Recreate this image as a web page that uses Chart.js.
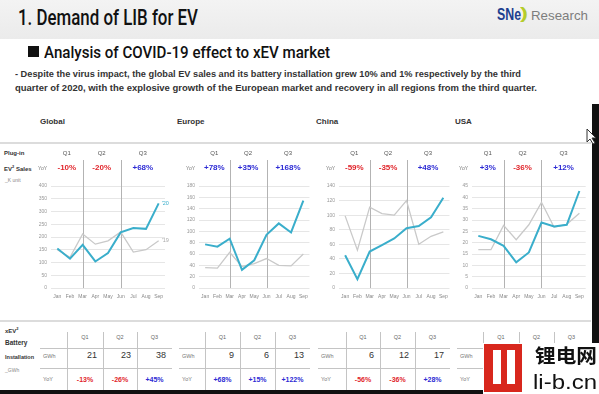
<!DOCTYPE html>
<html><head><meta charset="utf-8">
<script src="https://cdn.jsdelivr.net/npm/chart.js@4.4.1/dist/chart.umd.min.js"></script>
<style>
html,body{margin:0;padding:0;background:#fff;}
#root{position:relative;width:599px;height:394px;overflow:hidden;background:#fff;font-family:"Liberation Sans",Arial,sans-serif;}
.t{position:absolute;white-space:nowrap;transform-origin:0 50%;line-height:1;}
.abs{position:absolute;}
canvas{position:absolute;}
</style>
</head><body><div id="root">
<div class="abs" style="left:0;top:0;width:599px;height:39px;background:linear-gradient(#f3f3f3,#ebebeb);"></div>
<div class="t" data-w="180" style="left:18px;top:7px;font-size:22px;font-family:Roboto,'Liberation Sans';font-weight:500;color:#111;">1. Demand of LIB for EV</div>
<div class="t" style="left:497px;top:7px;font-size:16px;font-weight:bold;color:#1d3f8f;" data-w="24">SNe</div>
<div class="t" style="left:520px;top:5px;font-size:17px;font-weight:bold;color:#b5cc2a;" data-w="8">)</div>
<div class="t" style="left:531px;top:9px;font-size:13px;color:#7d7d7d;" data-w="57">Research</div>
<div class="abs" style="left:28px;top:46px;width:11px;height:11px;background:#111;"></div>
<div class="t" data-w="286" style="left:44px;top:44px;font-size:17px;font-family:Roboto,'Liberation Sans';font-weight:500;color:#111;">Analysis of COVID-19 effect to xEV market</div>
<div class="t" data-w="506" style="left:15px;top:70px;font-size:9px;font-weight:bold;color:#333;">- Despite the virus impact, the global EV sales and its battery installation grew 10% and 1% respectively by the third</div>
<div class="t" data-w="522" style="left:15px;top:84px;font-size:9px;font-weight:bold;color:#333;">quarter of 2020, with the explosive growth of the European market and recovery in all regions from the third quarter.</div>

<div class="t" style="left:40px;top:118px;font-size:8px;font-weight:bold;color:#333;">Global</div>
<div class="t" style="left:177px;top:118px;font-size:8px;font-weight:bold;color:#333;">Europe</div>
<div class="t" style="left:316px;top:118px;font-size:8px;font-weight:bold;color:#333;">China</div>
<div class="t" style="left:455px;top:118px;font-size:8px;font-weight:bold;color:#333;">USA</div>
<div class="abs" style="left:0;top:142px;width:591px;height:2px;background:#dcdcdc;"></div>

<div class="t" style="left:4px;top:150px;font-size:6px;font-weight:bold;color:#333;">Plug-in</div>
<div class="t" style="left:4px;top:165px;font-size:6px;font-weight:bold;color:#333;">EV<sup style="font-size:4px">2</sup> Sales</div>
<div class="t" style="left:5px;top:178px;font-size:5px;color:#888;">_K unit</div>

<canvas id="cGlobal"></canvas>
<canvas id="cEurope"></canvas>
<canvas id="cChina"></canvas>
<canvas id="cUSA"></canvas>

<div class="abs" style="left:0;top:320px;width:591px;height:2px;background:#dcdcdc;"></div>
<div class="t" style="left:5px;top:327px;font-size:6px;font-weight:bold;color:#333;">xEV<sup style="font-size:4px">2</sup></div>
<div class="t" style="left:5px;top:340px;font-size:6.5px;font-weight:bold;color:#333;">Battery</div>
<div class="t" style="left:5px;top:355px;font-size:5.5px;font-weight:bold;color:#333;">Installation</div>
<div class="t" style="left:5px;top:368px;font-size:5px;color:#888;">_GWh</div>
<div id="tables"></div>

<div class="abs" style="left:0;top:390px;width:485px;height:4px;background:#111;"></div>
<div class="abs" style="left:592px;top:104px;width:7px;height:240px;background:#111;"></div>
<svg class="abs" style="left:586px;top:128px;" width="12" height="18"><path d="M1 1 L1 14 L4 11 L7 16 L9 15 L6 10 L10 10 Z" fill="#fff" stroke="#333" stroke-width="1"/></svg>

<div class="abs" style="left:483px;top:343px;width:116px;height:51px;background:#fff;"></div>
<div class="abs" style="left:484px;top:344px;width:38px;height:48px;background:#d8271d;"></div>
<div class="abs" style="left:493px;top:350px;width:8px;height:34px;background:#fff;"></div>
<div class="abs" style="left:507px;top:350px;width:8px;height:34px;background:#fff;"></div>
<div class="t" data-w="62" style="left:535px;top:345px;font-size:19px;font-weight:bold;font-family:'Noto Sans CJK SC';color:#111;">锂电网</div>
<div class="t" data-w="64" style="left:533px;top:372px;font-size:20px;color:#111;">li-b.cn</div>
</div>
<script>
const months = ["Jan","Feb","Mar","Apr","May","Jun","Jul","Aug","Sep"];
const quarters = ["Q1","Q2","Q3"];
const quarterEndIdx = [2,5];
const seriesYears = ["'20","'19"];

const globalSales2020 = [155,115,169,104,137,218,235,232,332];
const globalSales2019 = [150,120,212,172,185,220,141,150,185];
const europeSales2020 = [77,73,87,32,49,94,114,98,154];
const europeSales2019 = [36,35,63,38,43,52,40,39,60];
const chinaSales2020 = [45,12,50,59,68,82,85,97,124];
const chinaSales2019 = [99,52,111,102,100,120,60,71,77];
const usaSales2020 = [23,21.5,18.6,11.3,15.7,28.9,27.1,27.9,42.8];
const usaSales2019 = [16.9,16.9,27.6,21.3,27.9,37.8,26.8,28.1,33];

const globalSalesYoY = ["-10%","-20%","+68%"];
const europeSalesYoY = ["+78%","+35%","+168%"];
const chinaSalesYoY = ["-59%","-35%","+48%"];
const usaSalesYoY = ["+3%","-36%","+12%"];

const globalGWh = [21,23,38];
const globalGWhYoY = ["-13%","-26%","+45%"];
const europeGWh = [9,6,13];
const europeGWhYoY = ["+68%","+15%","+122%"];
const chinaGWh = [6,12,17];
const chinaGWhYoY = ["-56%","-36%","+28%"];
const usaGWh = [5,3,6];
const usaGWhYoY = ["+7%","-38%","+27%"];

const RED = "#e1262c", BLUE = "#2d2bd4", TEAL = "#3aaecb", GREY = "#c9c9c9";
const yoyColor = s => s.trim().startsWith("-") ? RED : BLUE;

const overlayPlugin = {
  id: "overlay",
  beforeDatasetsDraw(chart, args, o) {
    const ctx = chart.ctx, x = chart.scales.x, a = chart.chartArea;
    ctx.save();
    ctx.strokeStyle = "#b3b3b3"; ctx.lineWidth = 1;
    quarterEndIdx.forEach(i => {
      const px = Math.round(x.getPixelForValue(i)) + 0.5;
      ctx.beginPath(); ctx.moveTo(px, o.lineTop); ctx.lineTo(px, a.bottom); ctx.stroke();
    });
    ctx.restore();
  },
  afterDraw(chart, args, o) {
    const ctx = chart.ctx, x = chart.scales.x, a = chart.chartArea;
    const b = [a.left, x.getPixelForValue(quarterEndIdx[0]), x.getPixelForValue(quarterEndIdx[1]), a.right];
    ctx.save();
    ctx.textBaseline = "middle"; ctx.textAlign = "center";
    quarters.forEach((q, i) => {
      const cx = (b[i] + b[i+1]) / 2;
      ctx.font = "6px 'Liberation Sans'"; ctx.fillStyle = "#555";
      ctx.fillText(q, cx, o.qY);
      ctx.font = "bold 8px 'Liberation Sans'"; ctx.fillStyle = yoyColor(o.yoy[i]);
      ctx.fillText(o.yoy[i], cx, o.yoyY);
    });
    ctx.textAlign = "right"; ctx.font = "5px 'Liberation Sans'"; ctx.fillStyle = "#777";
    ctx.fillText("YoY", a.left - 4, o.yoyY + 1);
    if (o.endLabels) {
      ctx.textAlign = "left"; ctx.font = "5.5px 'Liberation Sans'";
      chart.data.datasets.forEach((ds, di) => {
        const meta = chart.getDatasetMeta(di);
        const p = meta.data[meta.data.length - 1];
        ctx.fillStyle = di === 0 ? TEAL : "#aaa";
        ctx.fillText(seriesYears[di], p.x + 3, p.y);
      });
    }
    ctx.restore();
  }
};

function makeChart(id, d20, d19, yMax, yStep, yoy, endLabels, areaLeft, areaRight, padRight) {
  const canvas = document.getElementById(id);
  const yW = 24, top = 145, h = 160;
  const left = areaLeft - yW;
  const w = Math.round(areaRight + padRight - left);
  canvas.width = w; canvas.height = h;
  canvas.style.left = left + "px"; canvas.style.top = top + "px";
  canvas.style.width = w + "px"; canvas.style.height = h + "px";
  new Chart(canvas, {
    type: "line",
    data: { labels: months, datasets: [
      { data: d20, borderColor: TEAL, borderWidth: 2, pointRadius: 0, tension: 0, fill: false },
      { data: d19, borderColor: GREY, borderWidth: 1.3, pointRadius: 0, tension: 0, fill: false }
    ]},
    options: {
      responsive: false, animation: false, devicePixelRatio: 1,
      layout: { padding: { top: 41, right: padRight, left: 0, bottom: 0 } },
      plugins: { legend: { display: false }, tooltip: { enabled: false },
        overlay: { yoy: yoy, endLabels: endLabels, qY: 8, yoyY: 23, lineTop: 15 } },
      scales: {
        x: { offset: true, grid: { display: false, drawTicks: false }, border: { display: false },
             ticks: { font: { size: 5, family: "Liberation Sans" }, color: "#888", padding: 6, maxRotation: 0, autoSkip: false },
             afterFit: s => { s.height = 17; } },
        y: { min: 0, max: yMax, grid: { color: "#e6e6e6", drawTicks: false }, border: { display: false },
             ticks: { stepSize: yStep, font: { size: 5, family: "Liberation Sans" }, color: "#999", padding: 4 },
             afterFit: s => { s.width = yW; } }
      }
    },
    plugins: [overlayPlugin]
  });
}

makeChart("cGlobal", globalSales2020, globalSales2019, 400, 50, globalSalesYoY, true, 51, 165, 14);
makeChart("cEurope", europeSales2020, europeSales2019, 180, 20, europeSalesYoY, false, 199, 310, 4);
makeChart("cChina", chinaSales2020, chinaSales2019, 140, 20, chinaSalesYoY, false, 339, 450, 4);
makeChart("cUSA", usaSales2020, usaSales2019, 45, 5, usaSalesYoY, false, 472, 587, 3);

// tables
const tablesEl = document.getElementById("tables");
const tableDefs = [
  { L: 40, v: [67,103,137], R: 172, gwh: globalGWh, yoy: globalGWhYoY },
  { L: 179, v: [205,240,275], R: 310, gwh: europeGWh, yoy: europeGWhYoY },
  { L: 318, v: [346,380,415], R: 450, gwh: chinaGWh, yoy: chinaGWhYoY },
  { L: 457, v: [483,519,554], R: 589, gwh: usaGWh, yoy: usaGWhYoY }
];
function add(html) { tablesEl.insertAdjacentHTML("beforeend", html); }
tableDefs.forEach(t => {
  add(`<div class="abs" style="left:${t.L}px;top:348px;width:${t.R-t.L}px;height:1px;background:#c4c4c4"></div>`);
  add(`<div class="abs" style="left:${t.L}px;top:368px;width:${t.R-t.L}px;height:1px;background:#c4c4c4"></div>`);
  t.v.forEach(x => add(`<div class="abs" style="left:${x}px;top:332px;width:1px;height:58px;background:#c4c4c4"></div>`));
  add(`<div class="t" style="left:${t.L+3}px;top:354px;font-size:5.5px;color:#777">GWh</div>`);
  add(`<div class="t" style="left:${t.L+3}px;top:377px;font-size:5.5px;color:#777">YoY</div>`);
  const edges = [t.v[0], t.v[1], t.v[2], t.R];
  quarters.forEach((q, i) => {
    const l = edges[i], r = edges[i+1];
    add(`<div class="abs" style="left:${l}px;width:${r-l}px;top:335px;text-align:center;font-size:5.5px;line-height:1;color:#666">${q}</div>`);
    add(`<div class="abs" style="left:${l}px;width:${r-l-6}px;top:351px;text-align:right;font-size:9px;line-height:1;color:#333">${t.gwh[i]}</div>`);
    add(`<div class="abs" style="left:${l}px;width:${r-l}px;top:376px;text-align:center;font-size:7px;font-weight:bold;line-height:1;color:${yoyColor(t.yoy[i])}">${t.yoy[i]}</div>`);
  });
});

// fit text widths
document.querySelectorAll("[data-w]").forEach(el => {
  const target = parseFloat(el.dataset.w);
  const w = el.getBoundingClientRect().width;
  if (w > 0) el.style.transform = `scaleX(${target / w})`;
});
</script>
</body></html>
